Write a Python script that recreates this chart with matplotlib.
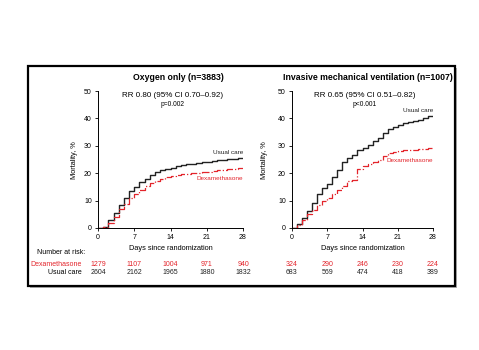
import matplotlib
matplotlib.use("Agg")
import matplotlib.pyplot as plt
import matplotlib.transforms as mtransforms
from matplotlib.patches import Rectangle
import numpy as np

plt.rcParams['font.family'] = ['Liberation Sans', 'DejaVu Sans']

RED = '#e3242b'

days = np.arange(0, 29)

# Oxygen only panel
oxy_usual = [0, 0.3, 3, 5.5, 8.5, 11, 13.5, 15, 16.8, 18, 19.3, 20.3, 21, 21.5, 22,
             22.5, 22.9, 23.2, 23.5, 23.8, 24.0, 24.2, 24.5, 24.7, 24.9, 25.1, 25.3, 25.4, 25.5]
oxy_dexa = [0, 0.2, 2, 4, 6.8, 8.8, 10.8, 12.3, 13.8, 15.2, 16.4, 17.2, 17.9, 18.6, 19.1,
            19.4, 19.6, 19.8, 20.0, 20.2, 20.4, 20.6, 20.8, 21.0, 21.2, 21.4, 21.6, 21.8, 22.0]

# Invasive mechanical ventilation panel
imv_usual = [0, 1.3, 3.7, 6.3, 9.3, 12.3, 14.5, 16, 18.7, 21.3, 24, 25.4, 26.8, 28.5, 29.3,
             30.3, 31.7, 33, 34.8, 36.2, 37, 37.5, 38.2, 38.6, 39, 39.5, 40.2, 40.8, 41]
imv_dexa = [0, 1.0, 3, 5, 6.5, 8.5, 9.7, 11, 12.5, 14, 15.5, 17, 17.5, 21.5, 22.5,
            23.5, 24, 24.8, 26.3, 27.3, 27.7, 28, 28.3, 28.4, 28.5, 28.7, 28.9, 29.1, 29.3]

risk_days = [0, 7, 14, 21, 28]
oxy_risk_dexa = [1279, 1107, 1004, 971, 940]
oxy_risk_usual = [2604, 2162, 1965, 1880, 1832]
imv_risk_dexa = [324, 290, 246, 230, 224]
imv_risk_usual = [683, 569, 474, 418, 389]

W, H = 479, 350
fig = plt.figure(figsize=(W / 100, H / 100), dpi=100)


def fx(px):
    return px / W


def fy(py):
    return 1 - py / H


# framed box with shadow
fig.patches.append(Rectangle((fx(30), fy(288)), fx(427), fy(68) - fy(288),
                             transform=fig.transFigure, facecolor='#b0b0b0',
                             edgecolor='none', zorder=0))
fig.patches.append(Rectangle((fx(28), fy(286)), fx(427), fy(66) - fy(286),
                             transform=fig.transFigure, facecolor='white',
                             edgecolor='black', linewidth=1.6, zorder=1))

panels = [
    dict(x0=98, x1=243, title='Oxygen only (n=3883)', title_x=178,
         rr='RR 0.80 (95% CI 0.70\u20130.92)', p='p=0.002',
         usual=oxy_usual, dexa=oxy_dexa, ylab_x=75,
         uc_lbl=(243, 153), dx_lbl=(243, 179),
         risk_d=oxy_risk_dexa, risk_u=oxy_risk_usual),
    dict(x0=292, x1=433, title='Invasive mechanical ventilation (n=1007)', title_x=368,
         rr='RR 0.65 (95% CI 0.51\u20130.82)', p='p<0.001',
         usual=imv_usual, dexa=imv_dexa, ylab_x=265,
         uc_lbl=(433, 111), dx_lbl=(433, 161),
         risk_d=imv_risk_dexa, risk_u=imv_risk_usual),
]

for pn in panels:
    ax = fig.add_axes([fx(pn['x0']), fy(228), fx(pn['x1'] - pn['x0']), fy(91) - fy(228)])
    ax.set_zorder(2)
    ax.patch.set_alpha(0)
    ax.step(days, pn['usual'], where='post', color='#222222', lw=1.0)
    ax.step(days, pn['dexa'], where='post', color=RED, lw=0.9, linestyle='-.')
    ax.set_xlim(0, 28)
    ax.set_ylim(0, 50)
    ax.set_xticks(risk_days)
    ax.set_yticks([0, 10, 20, 30, 40, 50])
    ax.tick_params(labelsize=5, length=2.5, width=0.6, pad=2)
    for s in ['top', 'right']:
        ax.spines[s].set_visible(False)
    for s in ['left', 'bottom']:
        ax.spines[s].set_linewidth(0.7)
    ax.set_xlabel('Days since randomization', fontsize=5.3, labelpad=3)
    fig.text(fx(pn['ylab_x']), fy(160), 'Mortality, %', fontsize=5.3, rotation=90,
             ha='center', va='center')
    cx = (pn['x0'] + pn['x1']) / 2
    fig.text(fx(pn['title_x']), fy(78), pn['title'], fontsize=6.3, fontweight='bold',
             ha='center', va='center')
    fig.text(fx(cx + 2), fy(96), pn['rr'], fontsize=5.8, ha='center', va='center')
    fig.text(fx(cx + 2), fy(104), pn['p'], fontsize=4.8, ha='center', va='center')
    fig.text(fx(pn['uc_lbl'][0]), fy(pn['uc_lbl'][1]), 'Usual care', fontsize=4.6,
             ha='right', va='center', color='#222222')
    fig.text(fx(pn['dx_lbl'][0]), fy(pn['dx_lbl'][1]), 'Dexamethasone', fontsize=4.6,
             ha='right', va='center', color=RED)

    trans = mtransforms.blended_transform_factory(ax.transData, fig.transFigure)
    for d, nd, nu in zip(risk_days, pn['risk_d'], pn['risk_u']):
        ax.text(d, fy(264), str(nd), transform=trans, fontsize=5, color=RED,
                ha='center', va='center', clip_on=False)
        ax.text(d, fy(273), str(nu), transform=trans, fontsize=5, color='#222222',
                ha='center', va='center', clip_on=False)

fig.text(fx(37), fy(253), 'Number at risk:', fontsize=5, ha='left', va='center')
fig.text(fx(82), fy(264), 'Dexamethasone', fontsize=5, ha='right', va='center', color=RED)
fig.text(fx(82), fy(273), 'Usual care', fontsize=5, ha='right', va='center')

fig.savefig('out.png', dpi=100)
